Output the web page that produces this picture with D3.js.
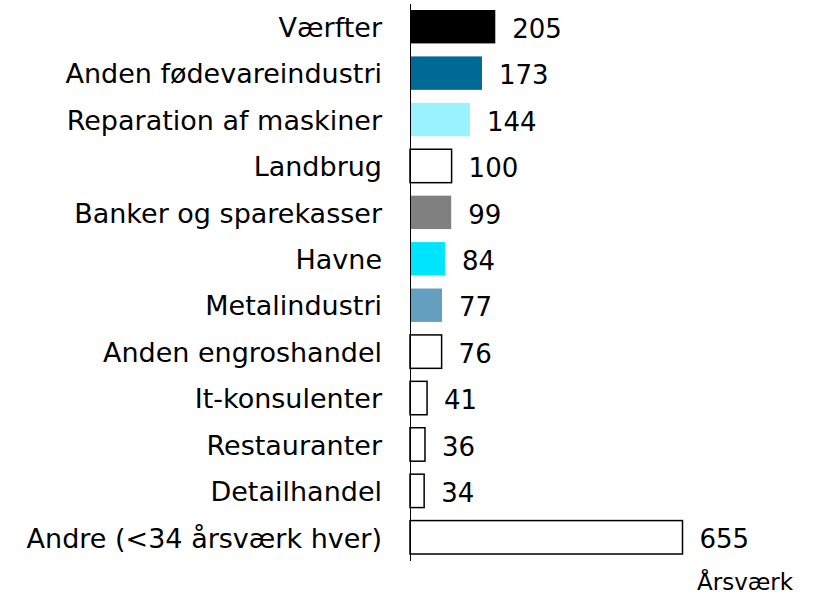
<!DOCTYPE html>
<html>
<head>
<meta charset="utf-8">
<script src="https://cdn.jsdelivr.net/npm/d3@7"></script>
<style>
  body { margin: 0; background: #fff; }
  text { font-family: "DejaVu Sans", sans-serif; }
</style>
</head>
<body>
<script>
var categories = ["Værfter", "Anden fødevareindustri", "Reparation af maskiner", "Landbrug",
  "Banker og sparekasser", "Havne", "Metalindustri", "Anden engroshandel",
  "It-konsulenter", "Restauranter", "Detailhandel", "Andre (<34 årsværk hver)"];
var values = [205, 173, 144, 100, 99, 84, 77, 76, 41, 36, 34, 655];
var colors = ["#000000", "#006996", "#99f2ff", "#ffffff", "#808080", "#00e5ff", "#649fc0",
  "#ffffff", "#ffffff", "#ffffff", "#ffffff", "#ffffff"];
var unitLabel = "Årsværk";

var width = 836, height = 596;
var x0 = 410;

var svg = d3.select("body").append("svg")
    .attr("width", width)
    .attr("height", height);

var x = d3.scaleLinear()
    .domain([0, 655])
    .range([x0, 682.5]);

var y = d3.scaleBand()
    .domain(categories)
    .range([3.5, 560.5])
    .paddingInner(0.28)
    .paddingOuter(0.14);

var data = categories.map(function(c, i) {
    return {name: c, value: values[i], color: colors[i]};
});

svg.selectAll("rect.bar")
    .data(data)
    .enter().append("rect")
    .attr("class", "bar")
    .attr("x", x(0))
    .attr("y", function(d) { return y(d.name); })
    .attr("width", function(d) { return x(d.value) - x(0); })
    .attr("height", y.bandwidth())
    .style("fill", function(d) { return d.color; })
    .style("stroke", function(d) { return d.color === "#ffffff" ? "#000" : "none"; })
    .style("stroke-width", 1.5);

var axis = svg.append("g")
    .attr("transform", "translate(" + x0 + ",0)")
    .call(d3.axisLeft(y).tickSize(0).tickPadding(28));
axis.select(".domain").attr("stroke", "#000").attr("stroke-width", 1);
axis.selectAll("text")
    .attr("dy", "0.38em")
    .style("font-family", "DejaVu Sans")
    .style("font-size", "27px")
    .style("fill", "#000");

svg.selectAll("text.val")
    .data(data)
    .enter().append("text")
    .attr("class", "val")
    .attr("x", function(d) { return x(d.value) + 17; })
    .attr("y", function(d) { return y(d.name) + y.bandwidth() / 2; })
    .attr("dy", "0.43em")
    .style("font-size", "26px")
    .text(function(d) { return d.value; });

svg.append("text")
    .attr("x", 697)
    .attr("y", 590)
    .style("font-size", "23px")
    .text(unitLabel);
</script>
</body>
</html>
